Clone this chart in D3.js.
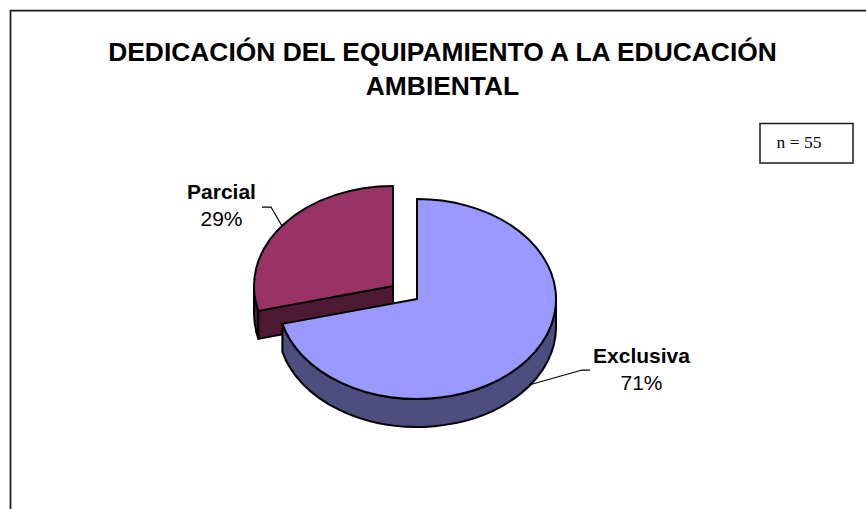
<!DOCTYPE html>
<html><head><meta charset="utf-8">
<script src="https://cdn.jsdelivr.net/npm/d3@7/dist/d3.min.js"></script>
<style>html,body{margin:0;padding:0;background:#fff}svg{display:block}</style>
</head><body><svg id="c" width="866" height="509"></svg>
<script>
const categories = ["Exclusiva", "Parcial"];
const percentages = [71, 29];
const titleLines = ["DEDICACIÓN DEL EQUIPAMIENTO A LA EDUCACIÓN", "AMBIENTAL"];
const noteText = "n = 55";
const topColors = ["#9999FF", "#993366"];
const wallColors = ["#4D4D80", "#4D1933"];

const svg = d3.select("#c");
const rx = 139, ry = 100, depth = 28;
const centers = [[417, 299], [393, 286]];
const pie = d3.pie().sort(null)(percentages);
const font = "'Liberation Sans', Arial, sans-serif";

const pt = (c, a, dy = 0) => [c[0] + rx * Math.sin(a), c[1] - ry * Math.cos(a) + dy];
const f = p => p[0].toFixed(2) + "," + p[1].toFixed(2);
function arcTo(c, a0, a1, dy = 0) {
  const large = Math.abs(a1 - a0) > Math.PI ? 1 : 0, sweep = a1 > a0 ? 1 : 0;
  return `A${rx},${ry} 0 ${large} ${sweep} ${f(pt(c, a1, dy))}`;
}
function topPath(c, s) {
  return `M${f(c)}L${f(pt(c, s.startAngle))}${arcTo(c, s.startAngle, s.endAngle)}Z`;
}
function outerWall(c, a0, a1) {
  return `M${f(pt(c, a0))}${arcTo(c, a0, a1)}L${f(pt(c, a1, depth))}${arcTo(c, a1, a0, depth)}Z`;
}
function cutWall(c, a) {
  const p = pt(c, a);
  return `M${f(c)}L${f(p)}L${p[0].toFixed(2)},${(p[1] + depth).toFixed(2)}L${c[0]},${c[1] + depth}Z`;
}
const stroke = (sel, fill) => sel.attr("fill", fill).attr("stroke", "#000").attr("stroke-width", 2).attr("stroke-linejoin", "round");

// frame
svg.append("path").attr("d", "M10.5,509V10.5H866").attr("fill", "none").attr("stroke", "#1a1a1a").attr("stroke-width", 1.75);

// Parcial slice
const sP = pie[1], cP = centers[1];
stroke(svg.append("path").attr("d", outerWall(cP, sP.startAngle, 1.5 * Math.PI)), wallColors[1]);
stroke(svg.append("path").attr("d", cutWall(cP, sP.startAngle)), wallColors[1]);
stroke(svg.append("path").attr("d", topPath(cP, sP)), topColors[1]);

// Exclusiva slice
const sE = pie[0], cE = centers[0];
stroke(svg.append("path").attr("d", outerWall(cE, Math.PI / 2, sE.endAngle)), wallColors[0]);
stroke(svg.append("path").attr("d", topPath(cE, sE)), topColors[0]);

// leader lines
const leader = d => svg.append("path").attr("d", d).attr("fill", "none").attr("stroke", "#000").attr("stroke-width", 1.25);
leader("M262,207H271L282,226");
leader("M529,385L582,370H590");

// title
svg.append("g").selectAll("text").data(titleLines).join("text")
  .attr("x", 442.5).attr("y", (d, i) => 61 + i * 34)
  .attr("text-anchor", "middle").attr("font-family", font).attr("font-size", 26.4).attr("font-weight", "bold")
  .text(d => d);

// data labels
const labelPos = [[641.5, 363], [221.5, 199]];
categories.forEach((c, i) => {
  const t = svg.append("text").attr("text-anchor", "middle").attr("font-family", font).attr("font-size", 21).attr("fill", "#000");
  t.append("tspan").attr("x", labelPos[i][0]).attr("y", labelPos[i][1]).attr("font-weight", "bold").text(c);
  t.append("tspan").attr("x", labelPos[i][0]).attr("y", labelPos[i][1] + 27).text(percentages[i] + "%");
});

// n box
svg.append("rect").attr("x", 760).attr("y", 123.5).attr("width", 93).attr("height", 39.5).attr("fill", "#fff").attr("stroke", "#1a1a1a").attr("stroke-width", 1.5);
svg.append("text").attr("x", 799).attr("y", 148).attr("text-anchor", "middle").attr("font-family", "'Liberation Serif', 'Times New Roman', serif").attr("font-size", 17.5).text(noteText);
</script></body></html>
